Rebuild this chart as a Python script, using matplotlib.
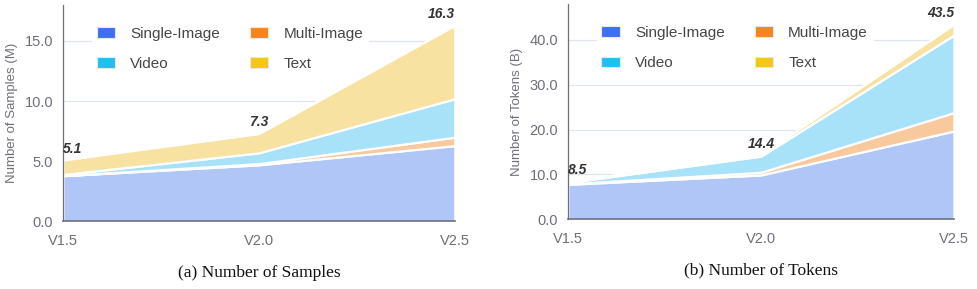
import matplotlib.pyplot as plt
from matplotlib.patches import Patch

versions = ["V1.5", "V2.0", "V2.5"]
series_names = ["Single-Image", "Multi-Image", "Video", "Text"]

# samples (M)
samples_single = [3.8, 4.7, 6.3]
samples_multi = [0.0, 0.1, 0.7]
samples_video = [0.1, 0.9, 3.2]
samples_text = [1.2, 1.6, 6.1]
samples_total = [5.1, 7.3, 16.3]

# tokens (B)
tokens_single = [7.8, 9.9, 19.7]
tokens_multi = [0.1, 0.6, 4.1]
tokens_video = [0.3, 3.6, 17.3]
tokens_text = [0.3, 0.3, 2.4]
tokens_total = [8.5, 14.4, 43.5]

legend_colors = ["#3D6FF5", "#F5861F", "#1FBEF5", "#F5C518"]
fill_colors = ["#B0C6F6", "#F7C99D", "#A8E2F8", "#F8E2A2"]
axis_gray = "#6E7079"
font = "Liberation Sans"


def draw_panel(ax, stacks, totals, ymax, yticks, ylabel, caption):
    x = list(range(len(versions)))
    ax.stackplot(x, *stacks, colors=fill_colors, edgecolor="white", linewidth=1.6, zorder=2)
    ax.set_xlim(0, len(versions) - 1)
    ax.set_ylim(0, ymax)
    ax.set_yticks(yticks)
    ax.set_yticklabels(["%.1f" % t for t in yticks], family=font, fontsize=10.5, color=axis_gray)
    ax.set_xticks(x)
    ax.set_xticklabels(versions, family=font, fontsize=10.5, color=axis_gray)
    ax.tick_params(length=0, pad=7)
    ax.tick_params(axis="x", pad=9)
    ax.grid(axis="y", color="#E0E6F1", linewidth=0.9, zorder=0)
    ax.set_axisbelow(True)
    for s in ["top", "right"]:
        ax.spines[s].set_visible(False)
    ax.spines["left"].set_color(axis_gray)
    ax.spines["bottom"].set_color(axis_gray)
    ax.spines["left"].set_linewidth(0.9)
    ax.spines["bottom"].set_linewidth(1.2)
    ax.set_ylabel(ylabel, family=font, fontsize=9.5, color=axis_gray, labelpad=5)

    aligns = ["left", "center", "right"]
    for i, t in enumerate(totals):
        ax.annotate("%.1f" % t, (x[i], t), xytext=(0, 3), textcoords="offset points",
                    ha=aligns[i], va="bottom", fontsize=10, fontweight="bold",
                    style="italic", family=font, color="#333333", zorder=5)

    # legend fills column-wise, so order gives rows: Single/Multi, Video/Text
    order = [0, 2, 1, 3]
    handles = [Patch(facecolor=legend_colors[k], edgecolor="#E8E8E8", linewidth=0.8) for k in order]
    labels = [series_names[k] for k in order]
    leg = ax.legend(handles, labels, ncol=2, loc="upper left",
                    bbox_to_anchor=(0.055, 0.955), frameon=True, framealpha=1,
                    edgecolor="white", facecolor="white",
                    prop={"family": font, "size": 11}, handlelength=1.2,
                    handleheight=0.65, handletextpad=1.0, columnspacing=1.95,
                    labelspacing=1.05, borderpad=0.3, labelcolor="#464646")
    # legend box sits under the areas but over the grid
    leg.set_zorder(1.5)
    ax.text(0.5, -0.2, caption, transform=ax.transAxes, ha="center", va="top",
            family="Liberation Serif", fontsize=12.5, color="#111111")


fig = plt.figure(figsize=(9.77, 2.89), dpi=100)
ax1 = fig.add_axes([0.0645, 0.234, 0.401, 0.749])
ax2 = fig.add_axes([0.5814, 0.241, 0.395, 0.745])

draw_panel(ax1, [samples_single, samples_multi, samples_video, samples_text], samples_total,
           18, [0, 5, 10, 15], "Number of Samples (M)", "(a) Number of Samples")
draw_panel(ax2, [tokens_single, tokens_multi, tokens_video, tokens_text], tokens_total,
           48, [0, 10, 20, 30, 40], "Number of Tokens (B)", "(b) Number of Tokens")

fig.savefig("out.png", dpi=100)
